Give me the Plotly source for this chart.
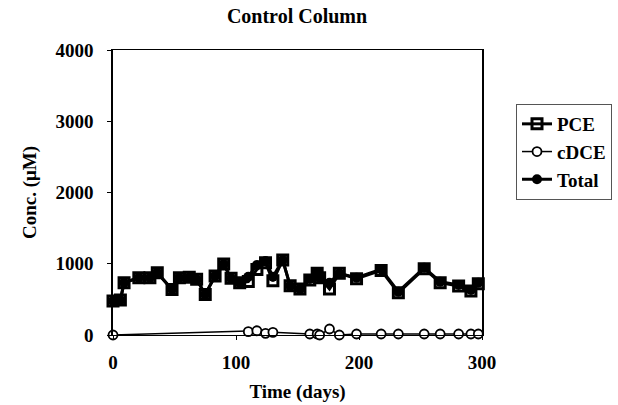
import plotly.graph_objects as go

days = [0, 6, 9, 21, 30, 36, 48, 54, 62, 68, 75, 83, 90, 96, 103, 110, 117, 124, 130,
        138, 144, 152, 160, 166, 168, 176, 184, 198, 218, 232, 253, 266, 281, 291, 297]
total = [477, 490, 734, 804, 804, 874, 640, 804, 809, 781, 570, 827, 995, 795, 734, 818,
         982, 1038, 818, 1052, 692, 645, 785, 879, 804, 734, 865, 804, 921, 608, 944, 748,
         701, 631, 734]
pce = [477, 490, 734, 804, 804, 874, 640, 804, 809, 781, 570, 827, 995, 795, 734, 750,
       920, 1015, 760, 1052, 692, 645, 771, 865, 804, 645, 865, 790, 907, 594, 930, 734,
       687, 617, 720]
cdce_days = [0, 110, 117, 124, 130, 160, 166, 168, 176, 184, 198, 218, 232, 253, 266, 281, 291, 297]
cdce = [0, 47, 60, 23, 37, 14, 14, 0, 84, 0, 14, 14, 14, 14, 14, 14, 14, 14]

x_ticks = [0, 100, 200, 300]
y_ticks = [0, 1000, 2000, 3000, 4000]

FONT = "Liberation Serif, Times New Roman, DejaVu Serif, serif"

fig = go.Figure()
fig.add_trace(go.Scatter(
    x=days, y=pce, name="PCE", mode="lines+markers",
    line=dict(color="black", width=3),
    marker=dict(symbol="square-open", size=10, color="black", line=dict(width=3, color="black")),
    cliponaxis=False,
))
fig.add_trace(go.Scatter(
    x=cdce_days, y=cdce, name="cDCE", mode="lines+markers",
    line=dict(color="black", width=1.5),
    marker=dict(symbol="circle", size=9, color="white", line=dict(width=1.8, color="black")),
    cliponaxis=False,
))
fig.add_trace(go.Scatter(
    x=days, y=total, name="Total", mode="lines+markers",
    line=dict(color="black", width=3),
    marker=dict(symbol="circle", size=10, color="black"),
    cliponaxis=False,
))

fig.update_layout(
    width=618, height=405,
    margin=dict(l=113, r=136, t=50, b=70, autoexpand=False),
    paper_bgcolor="white", plot_bgcolor="white",
    font=dict(family=FONT, size=17, color="black", weight="bold"),
    title=dict(text="Control Column", x=297 / 618, xanchor="center",
               y=1 - 16 / 405, yanchor="middle",
               font=dict(family=FONT, size=20, color="black", weight="bold")),
    legend=dict(x=(516 - 113) / 369, xanchor="left", y=(335 - 104) / 285, yanchor="top",
                bordercolor="#555", borderwidth=1, bgcolor="white",
                font=dict(family=FONT, size=19, color="black", weight="bold")),
    showlegend=True,
)
fig.update_xaxes(
    range=[0, 300], tickvals=x_ticks, ticks="outside", ticklen=4, tickcolor="black",
    showgrid=False, zeroline=False, showline=True, linecolor="black", linewidth=1,
    mirror=True, automargin=False, ticklabelstandoff=6,
    tickfont=dict(family=FONT, size=19, weight="bold"),
    title=dict(text="Time (days)", font=dict(family=FONT, size=19, weight="bold"), standoff=12),
)
fig.update_yaxes(
    range=[0, 4000], tickvals=y_ticks, ticks="outside", ticklen=4, tickcolor="black",
    showgrid=False, zeroline=False, showline=True, linecolor="black", linewidth=1.5,
    mirror=True, automargin=False, ticklabelstandoff=10,
    tickfont=dict(family=FONT, size=19, weight="bold"),
    title=dict(text="Conc. (μM)", font=dict(family=FONT, size=19, weight="bold"), standoff=14),
)

fig.write_html("out.html", config={"displayModeBar": False},
               post_script="document.body.style.margin='0';")
